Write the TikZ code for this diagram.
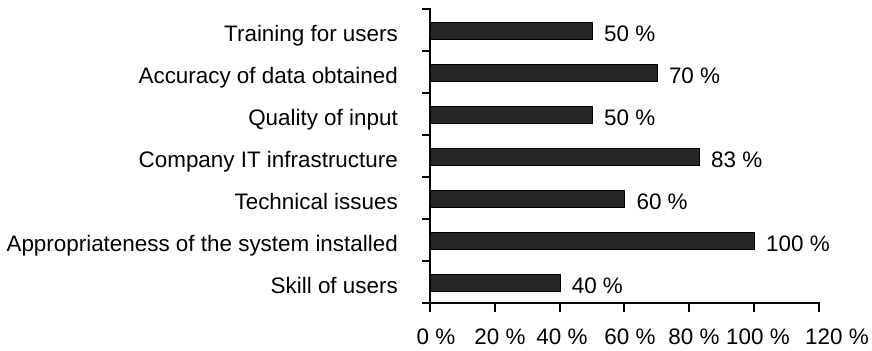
\documentclass[tikz,border=0pt]{standalone}
\usepackage{fontspec}
\setmainfont{Liberation Sans}
\usetikzlibrary{positioning}

\begin{document}
\begin{tikzpicture}[x=1bp, y=-1bp]
    \tikzset{
      axis line/.style = { black, line width = 2bp, line cap = rect },
      bar/.style = { draw = black, fill = black!85, line width = 1bp, inner sep = 0pt,
                     minimum height = 17bp, anchor = west },
      label text/.style = { font = \fontsize{22.5}{26}\selectfont, inner sep = 0pt,
                            text height = 16bp, text depth = 4.5bp },
    }
    \useasboundingbox (0,0) rectangle (872,350);

    \coordinate (origin) at (430,303);
    \coordinate (axis top) at (430,9);
    \coordinate (axis end) at (819,303);

    \foreach \v/\name [count = \i, evaluate = \v as \w using 3.24*\v] in
        {40/Skill of users, 100/Appropriateness of the system installed,
         60/Technical issues, 83/Company IT infrastructure, 50/Quality of input,
         70/Accuracy of data obtained, 50/Training for users} {
        \node[bar, minimum width = \w bp] (bar-\i) at (430, 282.5-42*\i+42) {};
        \node[label text, left = 32bp of bar-\i.west, yshift = -5bp] (category-\i) {\name};
        \node[label text, right = 11bp of bar-\i.east, yshift = -5bp] (value-\i) {\v~\%};
    }

    \draw[axis line] (axis top) -- (origin) -- (axis end);

    \foreach \k in {0,...,7}
        \draw[axis line] (430,303-42*\k) -- ++(-7,0);

    \foreach \p/\c [count = \i] in {0/436,20/500,40/562,60/630,80/694,100/758,120/837} {
        \coordinate (x tick-\i) at (430+3.24*\p,303);
        \draw[axis line] (x tick-\i) -- ++(0,8);
        \node[label text] (x label-\i) at (\c,339) {\p~\%};
    }
\end{tikzpicture}
\end{document}
